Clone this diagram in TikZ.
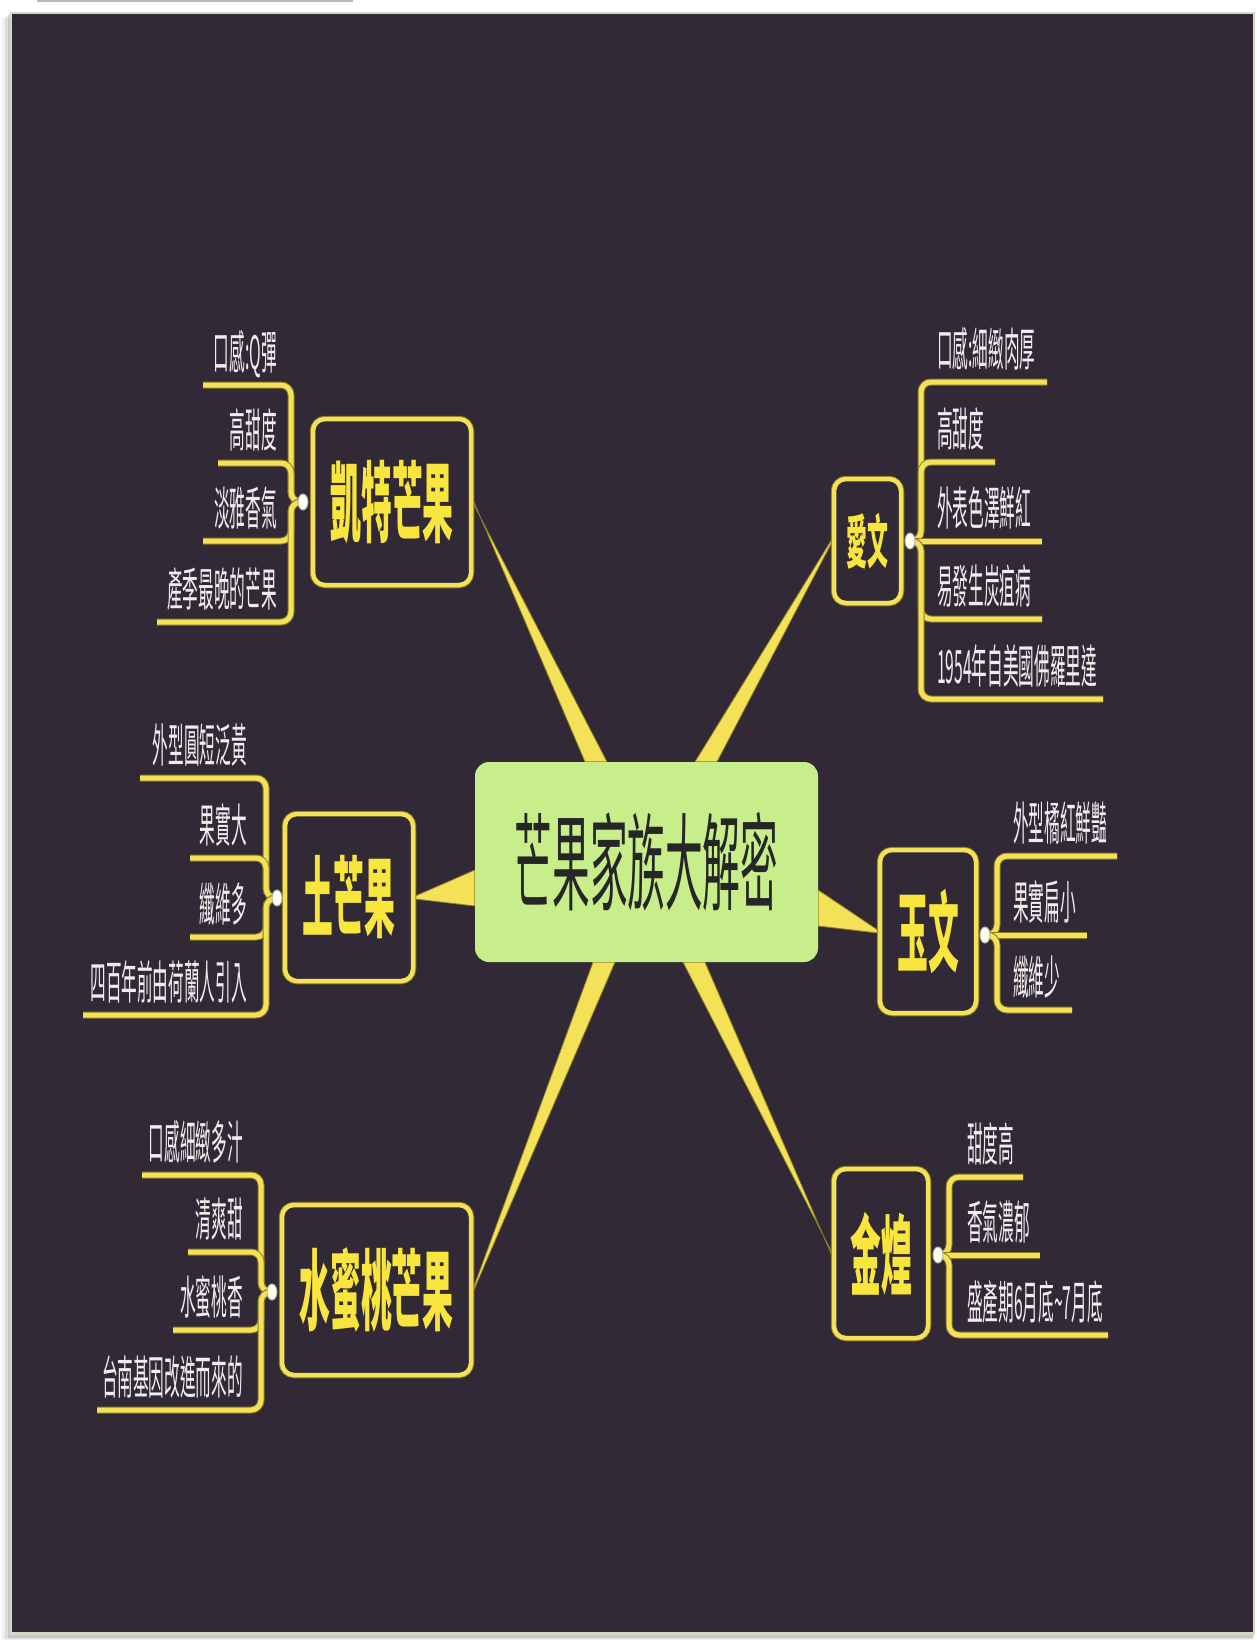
\documentclass[tikz,border=0pt]{standalone}
\usepackage{fontspec}
\usepackage{graphicx}
\usetikzlibrary{shapes.geometric,calc}
\newfontfamily\cjk{Noto Sans CJK TC}
\newcommand\sq[2]{\scalebox{#1}[1]{#2}}
\definecolor{bgdark}{RGB}{50,41,54}
\definecolor{ylw}{RGB}{243,226,88}
\definecolor{ylwedge}{RGB}{140,122,40}
\definecolor{boxtxt}{RGB}{248,230,62}
\definecolor{centerfill}{RGB}{200,238,140}
\definecolor{frameline}{RGB}{217,214,195}
\definecolor{leaftxt}{RGB}{238,238,238}
\pgfdeclarelayer{back}
\pgfdeclarelayer{bg}
\pgfsetlayers{back,bg,main}
\tikzset{
  ul/.style={draw=ylw, line width=5pt, preaction={draw=ylwedge, line width=7pt}},
  branchbox/.style={draw=ylw, line width=4.5pt, rounded corners=12pt,
     preaction={draw=ylwedge, line width=6.5pt}, fill=bgdark, inner sep=0pt,
     font=\cjk\bfseries\fontsize{88}{96}\selectfont, text=boxtxt},
  centernode/.style={fill=centerfill, rounded corners=14pt, inner sep=0pt,
     minimum width=343pt, minimum height=200pt,
     font=\cjk\fontsize{106}{112}\selectfont, text=black!85},
  knob/.style={ellipse, fill=white!92!yellow, draw=gray!60, line width=1pt,
     minimum width=10pt, minimum height=16pt, inner sep=0pt},
  leafL/.style={anchor=base east, inner sep=0pt, text=leaftxt, font=\cjk\fontsize{46}{52}\selectfont},
  leafR/.style={anchor=base west, inner sep=0pt, text=leaftxt, font=\cjk\fontsize{46}{52}\selectfont},
  taper/.style={fill=ylw, draw=ylwedge, line width=0.8pt, line join=round},
}
\newcommand\grp[3]{\def\knb{#1}\def\xb{#2}\def\yk{#3}}
\newcommand\leaf[6]{%
  \node[#2] (#1) at (#4,#5-16) {\sq{0.34}{#3}};
  \coordinate (#1e) at (#6,#5);
  \begin{pgfonlayer}{bg}
  \ifdim #5pt=\yk pt
    \draw[ul] (#1e) -- (\knb.center);
  \else
    \draw[ul, rounded corners=10pt] (#1e) -- (\xb,#5) -- (\xb,\yk) -- (\knb.center);
  \fi
  \end{pgfonlayer}
}
\begin{document}
\begin{tikzpicture}[x=1pt,y=-1pt]
\useasboundingbox (0,0) rectangle (1256,1640);
\begin{pgfonlayer}{back}
  \fill[white] (0,0) rectangle (1256,1640);
  \draw[gray!55, line width=2pt] (37,1) -- (353,1);
  \fill[black, opacity=0.06] (2,18) rectangle (1252,1640);
  \fill[black, opacity=0.08] (5,16) rectangle (1253,1639);
  \fill[black, opacity=0.10] (8,14) rectangle (1254,1638);
  \fill[frameline] (10,12) rectangle (1255,1635);
  \fill[bgdark] (12,14) rectangle (1253,1632);
\end{pgfonlayer}

% central node
\node[centernode] (c) at (646.5,862) {\sq{0.355}{芒果家族大解密}};

% branch boxes
\node[branchbox, minimum width=158pt, minimum height=166pt] (kaite) at (392,502) {\sq{0.35}{凱特芒果}};
\node[branchbox, font=\cjk\bfseries\fontsize{58}{64}\selectfont, minimum width=67pt, minimum height=124pt] (aiwen) at (867.5,541) {\sq{0.36}{愛文}};
\node[branchbox, minimum width=128pt, minimum height=167pt] (tu) at (349,897.5) {\sq{0.35}{土芒果}};
\node[branchbox, minimum width=96pt, minimum height=163pt] (yuwen) at (928,931.5) {\sq{0.35}{玉文}};
\node[branchbox, minimum width=189pt, minimum height=170pt] (shui) at (376.5,1290) {\sq{0.35}{水蜜桃芒果}};
\node[branchbox, minimum width=94pt, minimum height=169pt] (jin) at (881,1253.5) {\sq{0.35}{金煌}};

% knobs
\node[knob] (kk) at (303,502) {};
\node[knob] (ka) at (910,541) {};
\node[knob] (kt) at (277,898) {};
\node[knob] (ky) at (985,935) {};
\node[knob] (ks) at (272,1292) {};
\node[knob] (kj) at (938,1255) {};

% tapered connectors
\begin{pgfonlayer}{bg}
  \path[taper] ($(kaite.east)+(0,-1.5)$) -- ($(c.north)+(-61.5,0)$) -- ($(c.north)+(-39.5,0)$) -- ($(kaite.east)+(0,1.5)$) -- cycle;
  \path[taper] ($(aiwen.west)+(0,-1.5)$) -- ($(c.north)+(48.5,0)$) -- ($(c.north)+(70.5,0)$) -- ($(aiwen.west)+(0,1.5)$) -- cycle;
  \path[taper] ($(tu.east)+(0,-1.5)$) -- ($(c.west)+(0,8)$) -- ($(c.west)+(0,44)$) -- ($(tu.east)+(0,1.5)$) -- cycle;
  \path[taper] ($(yuwen.west)+(0,-1.5)$) -- ($(c.east)+(0,28)$) -- ($(c.east)+(0,64)$) -- ($(yuwen.west)+(0,1.5)$) -- cycle;
  \path[taper] ($(shui.east)+(0,-1.5)$) -- ($(c.south)+(-53.5,0)$) -- ($(c.south)+(-31.5,0)$) -- ($(shui.east)+(0,1.5)$) -- cycle;
  \path[taper] ($(jin.west)+(0,-1.5)$) -- ($(c.south)+(36.5,0)$) -- ($(c.south)+(58.5,0)$) -- ($(jin.west)+(0,1.5)$) -- cycle;
\end{pgfonlayer}

% leaves: Kaite
\grp{kk}{291}{502}
\leaf{k1}{leafL}{口感:Q彈}{277}{385}{203}
\leaf{k2}{leafL}{高甜度}{277}{463}{218}
\leaf{k3}{leafL}{淡雅香氣}{277}{541}{203}
\leaf{k4}{leafL}{產季最晚的芒果}{277}{622}{157}

% leaves: Aiwen
\grp{ka}{921}{541}
\leaf{a1}{leafR}{口感:細緻肉厚}{937}{382}{1047}
\leaf{a2}{leafR}{高甜度}{937}{462}{995}
\leaf{a3}{leafR}{外表色澤鮮紅}{937}{541}{1042}
\leaf{a4}{leafR}{易發生炭疽病}{937}{619}{1042}
\leaf{a5}{leafR}{1954年自美國佛羅里達}{937}{699}{1103}

% leaves: Tu
\grp{kt}{266}{898}
\leaf{t1}{leafL}{外型圓短泛黃}{247}{778}{140}
\leaf{t2}{leafL}{果實大}{247}{858}{190}
\leaf{t3}{leafL}{纖維多}{247}{937}{190}
\leaf{t4}{leafL}{四百年前由荷蘭人引入}{247}{1015}{83}

% leaves: Yuwen
\grp{ky}{997}{935}
\leaf{y1}{leafR}{外型橘紅鮮豔}{1013}{856}{1117}
\leaf{y2}{leafR}{果實扁小}{1013}{935}{1087}
\leaf{y3}{leafR}{纖維少}{1013}{1010}{1072}

% leaves: Shuimitao
\grp{ks}{261}{1292}
\leaf{s1}{leafL}{口感細緻多汁}{243}{1175}{142}
\leaf{s2}{leafL}{清爽甜}{243}{1252}{188}
\leaf{s3}{leafL}{水蜜桃香}{243}{1330}{173}
\leaf{s4}{leafL}{台南基因改進而來的}{243}{1410}{97}

% leaves: Jinhuang
\grp{kj}{949}{1255}
\leaf{j1}{leafR}{甜度高}{967}{1177}{1023}
\leaf{j2}{leafR}{香氣濃郁}{967}{1255}{1040}
\leaf{j3}{leafR}{盛產期6月底\textasciitilde7月底}{967}{1335}{1108}
\end{tikzpicture}
\end{document}
